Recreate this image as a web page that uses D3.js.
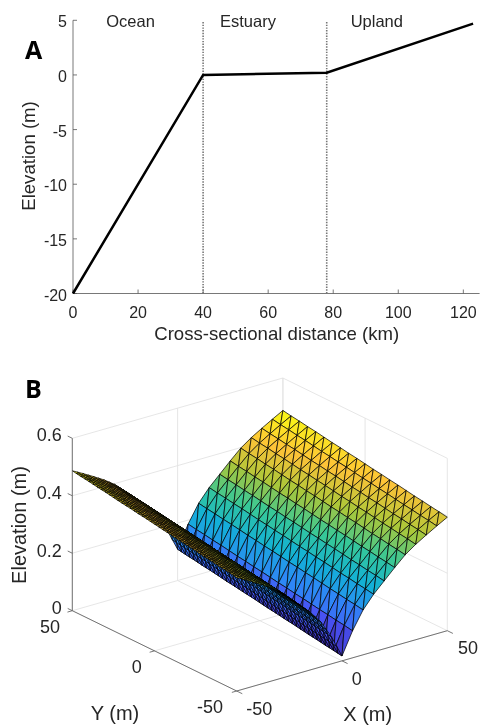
<!DOCTYPE html>
<html>
<head>
<meta charset="utf-8">
<script src="https://cdn.jsdelivr.net/npm/d3@7"></script>
<style>
html, body { margin: 0; padding: 0; background: #fff; overflow: hidden; }
svg { filter: blur(0.3px); }
text { font-family: "Liberation Sans", Arial, sans-serif; fill: #262626; }
.panel { font-family: "Open Sans", sans-serif; font-weight: 700; font-size: 25px; fill: #000; }
</style>
</head>
<body>
<svg id="chart" width="482" height="725"></svg>
<script>
// panel A: cross-section
var profileKm = [0, 40, 78, 123];
var profileElev = [-20, 0, 0.2, 4.7];
var boundaryKm = [40, 78];
var zoneNames = ["Ocean", "Estuary", "Upland"];
var zoneKm = [17.7, 53.8, 93.4];
var xTicksA = [0, 20, 40, 60, 80, 100, 120];
var yTicksA = [-20, -15, -10, -5, 0, 5];

// panel B: grid of the surface
var gridX = [0, 5, 10, 15, 20, 25, 30, 35, 40, 45, 50];   // |x|, mirrored
var gridY = [-50, -45, -40, -35, -30, -25, -20, -15, -10, -5, 0, 5, 10, 15, 20, 25, 30, 35, 40, 45, 50];
// one row per gridY, one column per gridX
var elevRows = [
  [.017, .094, .156, .200, .236, .272, .306, .332, .354, .375, .395],
  [.022, .099, .161, .205, .241, .277, .311, .337, .359, .380, .400],
  [.026, .103, .165, .209, .245, .281, .315, .341, .363, .384, .404],
  [.031, .108, .170, .214, .250, .286, .320, .346, .368, .389, .409],
  [.035, .112, .174, .218, .254, .290, .324, .350, .372, .393, .413],
  [.040, .117, .179, .223, .259, .295, .329, .355, .377, .398, .418],
  [.045, .122, .184, .228, .264, .300, .334, .360, .382, .403, .423],
  [.049, .126, .188, .232, .268, .304, .338, .364, .386, .407, .427],
  [.054, .131, .193, .237, .273, .309, .343, .369, .391, .412, .432],
  [.058, .135, .197, .241, .277, .313, .347, .373, .395, .416, .436],
  [.063, .140, .202, .246, .282, .318, .352, .378, .400, .421, .441],
  [.068, .145, .207, .251, .287, .323, .357, .383, .405, .426, .446],
  [.072, .149, .211, .255, .291, .327, .361, .387, .409, .430, .450],
  [.077, .154, .216, .260, .296, .332, .366, .392, .414, .435, .455],
  [.081, .158, .220, .264, .300, .336, .370, .396, .418, .439, .459],
  [.086, .163, .225, .269, .305, .341, .375, .401, .423, .444, .464],
  [.091, .168, .230, .274, .310, .346, .380, .406, .428, .449, .469],
  [.095, .172, .234, .278, .314, .350, .384, .410, .432, .453, .473],
  [.100, .177, .239, .283, .319, .355, .389, .415, .437, .458, .478],
  [.104, .181, .243, .287, .323, .359, .393, .419, .441, .462, .482],
  [.109, .186, .248, .292, .328, .364, .398, .424, .446, .467, .487]
];
var xTicksB = [-50, 0, 50];
var yTicksB = [-50, 0, 50];
var zTicksB = [0, 0.2, 0.4, 0.6];
var parula = ["#3e26a8", "#4852f4", "#2e87f7", "#12b1d6", "#37c897", "#abc739", "#fec338", "#f9fb15"];

var svg = d3.select("#chart");
var axisColor = "#555";

// ---- panel A ----
var xA = d3.scaleLinear().domain([0, 125]).range([73, 479.6]);
var yA = d3.scaleLinear().domain([-20, 5]).range([293.5, 20.3]);

var gA = svg.append("g");
gA.append("line").attr("x1", xA(0)).attr("x2", xA(125)).attr("y1", yA(-20)).attr("y2", yA(-20))
    .attr("stroke", axisColor).attr("stroke-width", 0.8);
gA.append("line").attr("x1", xA(0)).attr("x2", xA(0)).attr("y1", yA(-20)).attr("y2", yA(5))
    .attr("stroke", axisColor).attr("stroke-width", 0.8);

xTicksA.forEach(function (t) {
    gA.append("line").attr("x1", xA(t)).attr("x2", xA(t)).attr("y1", yA(-20)).attr("y2", yA(-20) - 4)
        .attr("stroke", axisColor).attr("stroke-width", 0.8);
    gA.append("text").attr("x", xA(t)).attr("y", 317.5).attr("text-anchor", "middle")
        .style("font-size", "16px").text(t);
});
yTicksA.forEach(function (t) {
    gA.append("line").attr("x1", xA(0)).attr("x2", xA(0) + 4).attr("y1", yA(t)).attr("y2", yA(t))
        .attr("stroke", axisColor).attr("stroke-width", 0.8);
    gA.append("text").attr("x", 67).attr("y", yA(t) + 7).attr("text-anchor", "end")
        .style("font-size", "16px").text(t);
});

boundaryKm.forEach(function (k) {
    gA.append("line").attr("x1", xA(k)).attr("x2", xA(k)).attr("y1", 22).attr("y2", yA(-20))
        .attr("stroke", "#777").attr("stroke-width", 1.6).attr("stroke-dasharray", "1.4,1.3");
});

var lineA = d3.line()
    .x(function (d, i) { return xA(profileKm[i]); })
    .y(function (d) { return yA(d); });
gA.append("path").attr("d", lineA(profileElev))
    .attr("fill", "none").attr("stroke", "#000").attr("stroke-width", 2.5);

zoneNames.forEach(function (n, i) {
    gA.append("text").attr("x", xA(zoneKm[i])).attr("y", 27).attr("text-anchor", "middle")
        .style("font-size", "16.5px").text(n);
});

gA.append("text").attr("x", 276.7).attr("y", 340).attr("text-anchor", "middle")
    .style("font-size", "18.6px").text("Cross-sectional distance (km)");
gA.append("text").attr("transform", "translate(35,156) rotate(-90)").attr("text-anchor", "middle")
    .style("font-size", "18.6px").text("Elevation (m)");
svg.append("text").attr("class", "panel").attr("x", 25).attr("y", 59).text("A");
svg.append("text").attr("class", "panel").attr("x", 25).attr("y", 397.5).text("B");

// ---- panel B ----
// fixed MATLAB-like view, written as three scales that add up on screen
var xPx = d3.scaleLinear().domain([-50, 50]).range([0, 210.6]);
var xPy = d3.scaleLinear().domain([-50, 50]).range([0, -60.3]);
var yPx = d3.scaleLinear().domain([-50, 50]).range([0, -164.4]);
var yPy = d3.scaleLinear().domain([-50, 50]).range([0, -80.3]);
var zPy = d3.scaleLinear().domain([0, 0.6]).range([0, -172.4]);
var corner = [236.7, 691];

function proj(x, y, z) {
    return [corner[0] + xPx(x) + yPx(y), corner[1] + xPy(x) + yPy(y) + zPy(z)];
}
// larger = closer to the camera
function depth(x, y, z) {
    return -0.571 * (x + 50) / 100 - 0.731 * (y + 50) / 100 + 0.431 * z;
}

var gB = svg.append("g");
var gridColor = "#e3e3e3";
function seg(a, b, color, w) {
    var p = proj(a[0], a[1], a[2]), q = proj(b[0], b[1], b[2]);
    gB.append("line").attr("x1", p[0]).attr("y1", p[1]).attr("x2", q[0]).attr("y2", q[1])
        .attr("stroke", color).attr("stroke-width", w);
}

// back walls and floor
zTicksB.forEach(function (z) {
    if (z > 0) {
        seg([-50, 50, z], [50, 50, z], gridColor, 0.9);
        seg([50, 50, z], [50, -50, z], gridColor, 0.9);
    }
});
xTicksB.forEach(function (x) {
    seg([x, 50, 0], [x, 50, 0.6], gridColor, 0.9);
    seg([x, -50, 0], [x, 50, 0], gridColor, 0.9);
});
yTicksB.forEach(function (y) {
    seg([50, y, 0], [50, y, 0.6], gridColor, 0.9);
    seg([-50, y, 0], [50, y, 0], gridColor, 0.9);
});

// surface
var color = d3.scaleLinear()
    .domain(d3.range(parula.length).map(function (i) { return 0.017 + i * (0.487 - 0.017) / (parula.length - 1); }))
    .range(parula);

var columnsX = gridX.slice(1).reverse().map(function (d) { return -d; }).concat(gridX);
function elevAt(i, j) {
    return elevRows[j][gridX.indexOf(Math.abs(columnsX[i]))];
}
// the x<0 half of the mesh is drawn finer, each cell split in leftSplit per side
var leftSplit = 2;
function cellPoint(i, j, s, t) {
    var z = (1 - s) * (1 - t) * elevAt(i, j) + s * (1 - t) * elevAt(i + 1, j) +
        s * t * elevAt(i + 1, j + 1) + (1 - s) * t * elevAt(i, j + 1);
    return [columnsX[i] + s * (columnsX[i + 1] - columnsX[i]), gridY[j] + t * (gridY[j + 1] - gridY[j]), z];
}
var tris = [];
d3.range(columnsX.length - 1).forEach(function (i) {
    d3.range(gridY.length - 1).forEach(function (j) {
        var n = columnsX[i] < 0 ? leftSplit : 1;
        d3.range(n).forEach(function (a) {
            d3.range(n).forEach(function (b) {
                var p00 = cellPoint(i, j, a / n, b / n), p10 = cellPoint(i, j, (a + 1) / n, b / n),
                    p11 = cellPoint(i, j, (a + 1) / n, (b + 1) / n), p01 = cellPoint(i, j, a / n, (b + 1) / n);
                tris.push([p00, p10, p11]);
                tris.push([p00, p11, p01]);
            });
        });
    });
});
tris = tris.map(function (pts) {
    return {
        pts: pts,
        z: d3.mean(pts, function (p) { return p[2]; }),
        depth: d3.mean(pts, function (p) { return depth(p[0], p[1], p[2]); })
    };
}).sort(function (a, b) { return a.depth - b.depth; });

gB.selectAll("path.tri").data(tris).enter().append("path")
    .attr("class", "tri")
    .attr("d", function (d) {
        return "M" + d.pts.map(function (p) { return proj(p[0], p[1], p[2]).join(","); }).join("L") + "Z";
    })
    .attr("fill", function (d) { return color(d.z); })
    .attr("stroke", "#000")
    .attr("stroke-opacity", 0.9)
    .attr("stroke-width", 0.8)
    .attr("stroke-linejoin", "round");

// axes
seg([-50, 50, 0], [-50, 50, 0.6], axisColor, 0.8);
seg([-50, 50, 0], [-50, -50, 0], axisColor, 0.8);
seg([-50, -50, 0], [50, -50, 0], axisColor, 0.8);
xTicksB.forEach(function (x) { seg([x, -50, 0], [x, -53.4, 0], axisColor, 0.8); });
yTicksB.forEach(function (y) { seg([-50, y, 0], [-52.3, y, 0], axisColor, 0.8); });
zTicksB.forEach(function (z) { seg([-50, 50, z], [-50, 52.8, z], axisColor, 0.8); });

// tick labels sit by hand next to the slanted axes
var zLabelY = [613.5, 557, 499, 441];
zTicksB.forEach(function (z, i) {
    svg.append("text").attr("x", 61.7).attr("y", zLabelY[i]).attr("text-anchor", "end")
        .style("font-size", "18px").text(z === 0 ? "0" : z.toFixed(1));
});
var yLabelPos = [[210, 713], [136.7, 673], [50, 633]];
yTicksB.forEach(function (t, i) {
    svg.append("text").attr("x", yLabelPos[i][0]).attr("y", yLabelPos[i][1]).attr("text-anchor", "middle")
        .style("font-size", "18px").text(t);
});
var xLabelPos = [[259.3, 714.5], [356.7, 684.5], [468, 653.5]];
xTicksB.forEach(function (t, i) {
    svg.append("text").attr("x", xLabelPos[i][0]).attr("y", xLabelPos[i][1]).attr("text-anchor", "middle")
        .style("font-size", "18px").text(t);
});
svg.append("text").attr("x", 115).attr("y", 720).attr("text-anchor", "middle")
    .style("font-size", "20px").text("Y (m)");
svg.append("text").attr("x", 367.7).attr("y", 720.5).attr("text-anchor", "middle")
    .style("font-size", "20px").text("X (m)");
svg.append("text").attr("transform", "translate(26,525) rotate(-90)").attr("text-anchor", "middle")
    .style("font-size", "20px").text("Elevation (m)");
</script>
</body>
</html>
